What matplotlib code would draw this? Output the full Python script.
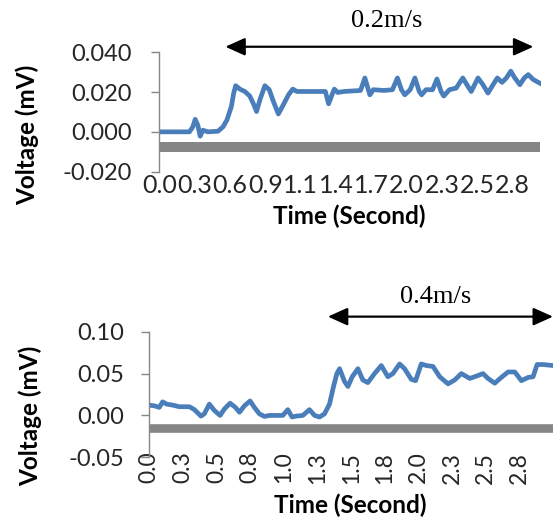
import matplotlib.pyplot as plt
from matplotlib.ticker import FormatStrFormatter

plt.rcParams['axes.unicode_minus'] = False

# 0.2 m/s run: time (s) and voltage (mV)
t_slow = [0.0, 0.242, 0.269, 0.288, 0.309, 0.328, 0.350, 0.390, 0.471, 0.511,
          0.543, 0.578, 0.597, 0.613, 0.646, 0.686, 0.726, 0.759, 0.780, 0.807,
          0.847, 0.882, 0.915, 0.955, 0.995, 1.036, 1.071, 1.103, 1.210, 1.332,
          1.358, 1.385, 1.404, 1.431, 1.480, 1.614, 1.649, 1.673, 1.689, 1.716,
          1.802, 1.870, 1.910, 1.942, 1.969, 2.012, 2.050, 2.085, 2.104, 2.139,
          2.192, 2.227, 2.260, 2.281, 2.327, 2.381, 2.434, 2.475, 2.502, 2.556,
          2.596, 2.636, 2.677, 2.711, 2.749, 2.784, 2.819, 2.851, 2.892, 2.927,
          2.959, 2.999, 3.060]
v_slow = [0.0, 0.0, 0.0025, 0.0063, 0.0034, -0.0022, 0.0008, 0.0, 0.0003, 0.0025,
          0.006, 0.0127, 0.0195, 0.0232, 0.0215, 0.0203, 0.018, 0.0136, 0.0102, 0.0161,
          0.0232, 0.0212, 0.0153, 0.009, 0.0136, 0.0186, 0.0215, 0.0203, 0.0203, 0.0203,
          0.0141, 0.0186, 0.0215, 0.0198, 0.0203, 0.0208, 0.0271, 0.022, 0.0186, 0.0212,
          0.0208, 0.0212, 0.0271, 0.0212, 0.0186, 0.0212, 0.0271, 0.0203, 0.0186, 0.0212,
          0.0212, 0.0266, 0.0203, 0.018, 0.0212, 0.022, 0.0271, 0.0229, 0.0203, 0.0271,
          0.0237, 0.0195, 0.0237, 0.0271, 0.0249, 0.0271, 0.0305, 0.0271, 0.0237, 0.0271,
          0.0288, 0.0263, 0.0242]
ticks_slow = ['0.0', '0.3', '0.6', '0.9', '1.1', '1.4', '1.7', '2.0', '2.3', '2.5', '2.8']
step_slow = 0.2833
base_slow = -0.0075

# 0.4 m/s run
t_fast = [0.0, 0.037, 0.074, 0.099, 0.129, 0.174, 0.223, 0.298, 0.335, 0.384,
          0.409, 0.446, 0.484, 0.526, 0.558, 0.600, 0.640, 0.670, 0.707, 0.749,
          0.781, 0.818, 0.856, 0.893, 0.992, 1.029, 1.061, 1.091, 1.141, 1.190,
          1.228, 1.265, 1.302, 1.339, 1.369, 1.394, 1.414, 1.451, 1.476, 1.508,
          1.550, 1.587, 1.624, 1.674, 1.724, 1.773, 1.810, 1.860, 1.897, 1.947,
          1.979, 2.021, 2.058, 2.108, 2.158, 2.220, 2.269, 2.319, 2.381, 2.430,
          2.480, 2.517, 2.567, 2.616, 2.666, 2.716, 2.765, 2.815, 2.852, 2.882,
          2.926, 3.000]
v_fast = [0.0123, 0.0115, 0.0096, 0.0162, 0.0135, 0.0123, 0.0104, 0.0104, 0.0069, -0.0008,
          0.0019, 0.0135, 0.0058, 0.0, 0.0077, 0.0146, 0.0096, 0.0038, 0.0115, 0.0173,
          0.0096, 0.0019, -0.0012, 0.0, 0.0, 0.0069, -0.0019, -0.0008, 0.0, 0.0069,
          0.0, -0.0019, 0.0019, 0.0135, 0.0346, 0.05, 0.0558, 0.0404, 0.0346, 0.0462,
          0.0558, 0.0423, 0.0392, 0.05, 0.0596, 0.0462, 0.05, 0.0615, 0.0558, 0.0431,
          0.0415, 0.0615, 0.0596, 0.0585, 0.0462, 0.0377, 0.0423, 0.05, 0.0442, 0.0469,
          0.05, 0.0442, 0.0385, 0.0454, 0.0519, 0.0519, 0.0415, 0.0454, 0.0462, 0.0608,
          0.0608, 0.0596]
ticks_fast = ['0.0', '0.3', '0.5', '0.8', '1.0', '1.3', '1.5', '1.8', '2.0', '2.3', '2.5', '2.8']
step_fast = 0.25
base_fast = -0.015

blue = '#4a7ebb'
grey = '#868686'
serif = 'Liberation Serif'
sans = 'Lato'

fig = plt.figure(figsize=(5.53, 5.2), dpi=100)
ax1 = fig.add_axes([0.288, 0.670, 0.690, 0.2294])
ax2 = fig.add_axes([0.270, 0.1206, 0.730, 0.2415])


def style(ax, yticks, fmt, ypad):
    for s in ['top', 'right', 'bottom']:
        ax.spines[s].set_visible(False)
    ax.spines['left'].set_color(grey)
    ax.spines['left'].set_linewidth(1)
    ax.set_yticks(yticks)
    ax.yaxis.set_major_formatter(FormatStrFormatter(fmt))
    ax.tick_params(axis='y', direction='out', length=5.5, width=1, color=grey,
                   pad=ypad, labelsize=17, labelcolor='#262626')
    ax.tick_params(axis='x', length=0, labelcolor='#262626')
    for lab in ax.get_yticklabels() + ax.get_xticklabels():
        lab.set_family(sans)


# top panel
ax1.plot(t_slow, v_slow, color=blue, lw=3.4, solid_joinstyle='round')
ax1.plot([0, t_slow[-1] - 0.01], [base_slow, base_slow], color=grey, lw=7.2,
         solid_capstyle='butt')
ax1.set_xlim(0, t_slow[-1])
ax1.set_ylim(-0.02, 0.04)
ax1.set_xticks([i * step_slow for i in range(len(ticks_slow))])
ax1.set_xticklabels(ticks_slow)
style(ax1, [-0.02, 0.0, 0.02, 0.04], '%.3f', 14)
ax1.tick_params(axis='x', labelsize=18, pad=2)
for lab in ax1.get_xticklabels():
    lab.set_family(sans)
ax1.set_xlabel('Time (Second)', family=sans, weight='bold', fontsize=17.5, va='center')
ax1.xaxis.set_label_coords(0.497, -0.371)
ax1.set_ylabel('Voltage (mV)', family=sans, weight='bold', fontsize=17.5, va='center')
ax1.yaxis.set_label_coords(-0.3466, 0.307)
ax1.annotate('', xy=(3.0, 0.0428), xytext=(0.53, 0.0428), annotation_clip=False,
             arrowprops=dict(arrowstyle='<|-|>,head_length=0.6,head_width=0.27',
                             mutation_scale=20, lw=1.6, color='black',
                             shrinkA=0, shrinkB=0))
ax1.text(1.82, 0.0557, '0.2m/s', family=serif, fontsize=19, ha='center', va='center')

# bottom panel
ax2.plot(t_fast, v_fast, color=blue, lw=3.4, solid_joinstyle='round')
ax2.plot([0, t_fast[-1]], [base_fast, base_fast], color=grey, lw=6.2,
         solid_capstyle='butt')
ax2.set_xlim(0, t_fast[-1])
ax2.set_ylim(-0.05, 0.10)
ax2.set_xticks([i * step_fast for i in range(len(ticks_fast))])
ax2.set_xticklabels(ticks_fast, rotation=90)
style(ax2, [-0.05, 0.0, 0.05, 0.10], '%.2f', 12.5)
ax2.tick_params(axis='x', labelsize=16.5, pad=-4)
for lab in ax2.get_xticklabels():
    lab.set_family(sans)
ax2.set_xlabel('Time (Second)', family=sans, weight='bold', fontsize=17.5, va='center')
ax2.xaxis.set_label_coords(0.497, -0.380)
ax2.set_ylabel('Voltage (mV)', family=sans, weight='bold', fontsize=17.5, va='center')
ax2.yaxis.set_label_coords(-0.2955, 0.329)
ax2.annotate('', xy=(3.0, 0.118), xytext=(1.327, 0.118), annotation_clip=False,
             arrowprops=dict(arrowstyle='<|-|>,head_length=0.6,head_width=0.27',
                             mutation_scale=20, lw=1.6, color='black',
                             shrinkA=0, shrinkB=0))
ax2.text(2.13, 0.1416, '0.4m/s', family=serif, fontsize=19, ha='center', va='center')

fig.savefig('out.png', dpi=100)
